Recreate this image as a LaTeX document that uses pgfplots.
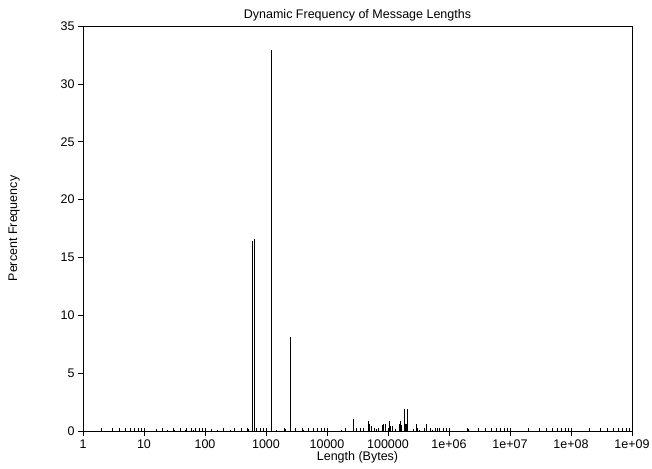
\documentclass[border=0pt]{standalone}
\usepackage{fontspec}
\setmainfont{Liberation Sans}
\usepackage{pgfplots}
\pgfplotsset{compat=1.18}
\newcommand{\lblfont}{\fontsize{12.5}{14}\selectfont}

\begin{document}
\begin{tikzpicture}
\useasboundingbox (-83pt,-37pt) rectangle (569pt,431pt);
\begin{axis}[
  at={(0pt,0pt)}, anchor=south west, scale only axis,
  width=549pt, height=405pt,
  xmode=log, xmin=1, xmax=1e9, ymin=0, ymax=35,
  xtick={1,10,100,1000,1e4,1e5,1e6,1e7,1e8,1e9},
  xticklabels={1,10,100,1000,10000,100000,1e+06,1e+07,1e+08,1e+09},
  ytick={0,5,10,15,20,25,30,35},
  tick pos=left, tick align=outside,
  major tick length=5pt, minor tick length=3pt,
  minor x tick style={yshift=3pt},
  /pgf/number format/assume math mode=true,
  tick label style={font=\lblfont, black},
  axis line style={line width=0.8pt},
  every tick/.style={black, line width=0.6pt},
  title={Dynamic Frequency of Message Lengths},
  title style={font=\lblfont, at={(0.5,1)}, anchor=base, yshift=1pt},
  xlabel={Length (Bytes)},
  xlabel style={font=\lblfont, at={(0.5,0)}, anchor=base, yshift=-29pt},
  ylabel={Percent Frequency},
  ylabel style={font=\lblfont, at={(0,0.5)}, anchor=center, yshift=69pt},
]
\addplot[ycomb, black, line width=0.65pt, mark=none] coordinates {
 (2,0.05) (3,0.05) (4,0.1) (6,0.05) (8,0.1) (10,0.05) (16,0.15) (24,0.05)
 (32,0.1) (48,0.05) (64,0.1) (100,0.1) (128,0.15) (160,0.05) (200,0.1)
 (256,0.1) (300,0.05) (400,0.1) (512,0.15)
 (588,16.45) (634,16.55) (800,0.1) (1240,32.9) (1500,0.1) (2048,0.15)
 (2500,8.15) (3000,0.1) (4096,0.1) (5000,0.15) (8192,0.1) (10000,0.1)
 (16982,0.1) (26980,1.0) (34750,0.3) (47540,0.9) (50120,0.6) (52600,0.4)
 (65300,0.2) (80700,0.5) (85100,0.6) (90400,0.6) (105000,0.9) (110700,0.4)
 (116300,0.4) (130300,0.15) (151500,0.6) (159100,0.9) (167800,0.55)
 (183000,1.9) (193600,0.6) (201000,0.6) (207200,1.9) (259900,0.2)
 (291000,0.6) (322000,0.1) (430700,0.6) (526300,0.1) (635800,0.3)
 (2050000,0.2)};
\end{axis}
\end{tikzpicture}
\end{document}
